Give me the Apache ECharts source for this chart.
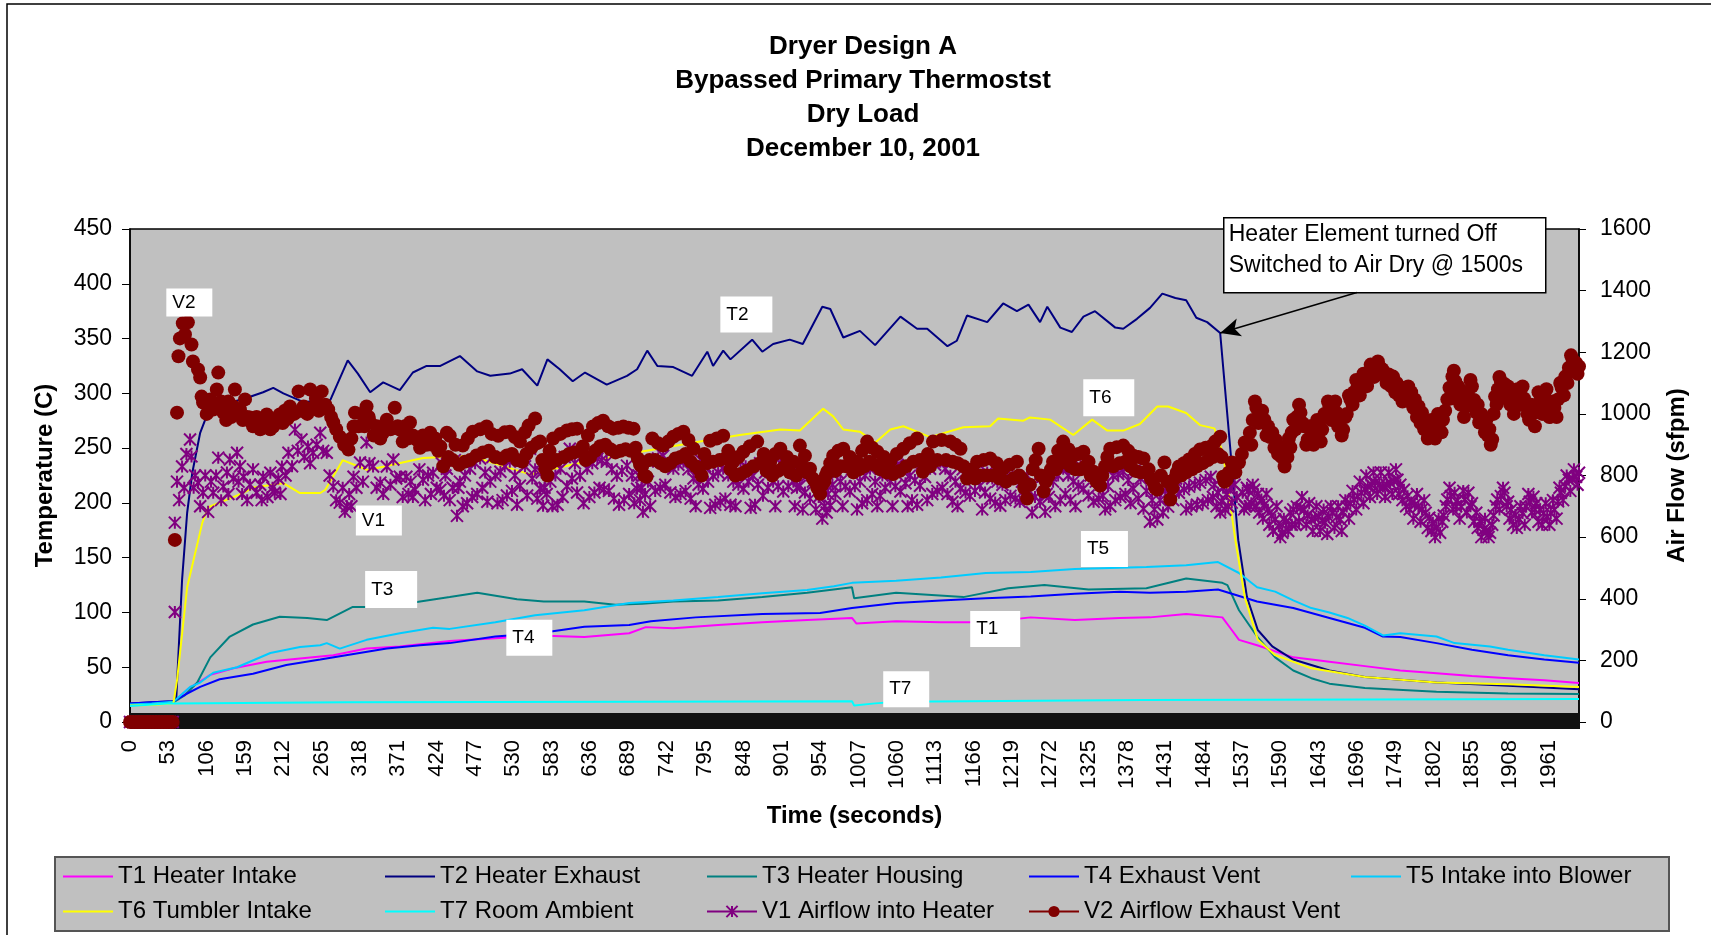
<!DOCTYPE html>
<html>
<head>
<meta charset="utf-8">
<title>Dryer Design A</title>
<script src="https://cdn.jsdelivr.net/npm/echarts@6/dist/echarts.min.js"></script>
<style>
  html, body { margin: 0; padding: 0; background: #fff; }
  #chart { width: 1711px; height: 935px; }
</style>
</head>
<body>
<div id="chart"></div>
<script>
// time (s) vs temperature (C) readings, left axis
const T1 = [[0,15],[30,16],[60,18],[80,30],[97,37],[111,43],[143,49],[189,55],[235,58],[281,61],[327,67],[373,69],[442,74],[505,76.5],[565,79],[628,77.5],[690,81],[713,86.6],[751,85.5],[813,88.5],[874,91],[936,93],[998,95],[1004,90],[1059,92],[1121,91],[1183,91],[1245,95.5],[1306,93],[1368,95],[1410,95.5],[1460,98.6],[1510,95.5],[1523,84],[1533,75],[1558,70],[1608,59],[1658,55],[1707,51],[1756,47],[1806,44.5],[1855,42],[1905,40],[1955,38],[2003,35.6]];
const T2 = [[0,17],[30,18],[60,19],[64,22],[72,130],[79,191],[86,227],[97,264],[104,276],[131,290],[162,296],[184,301],[198,305],[212,300],[240,292],[277,294],[301,330],[315,318],[332,301],[350,310],[373,303],[391,319],[410,325],[429,325],[456,334],[480,320],[498,316],[525,318],[542,322],[563,307],[577,331],[594,322],[612,311],[629,319],[659,308],[687,316],[701,322],[715,339],[729,325],[751,324],[777,316],[798,338],[806,325],[820,339],[830,331],[860,349],[874,338],[889,345],[912,349],[930,345],[957,379],[968,377],[986,351],[1009,357],[1030,344],[1065,370],[1088,359],[1102,359],[1130,343],[1143,348],[1157,371],[1185,365],[1207,382],[1226,375],[1242,381],[1258,365],[1268,379],[1286,360],[1302,356],[1318,370],[1334,375],[1362,360],[1373,359],[1392,368],[1410,378],[1427,391],[1445,387],[1460,385],[1474,369],[1489,365],[1507,355],[1532,166],[1544,114],[1559,84],[1579,69],[1608,57],[1658,47],[1707,41],[1806,36],[1905,33],[2003,30]];
const T3 = [[0,16],[30,17],[60,18],[75,24],[93,36],[111,59],[138,78],[170,89],[207,96],[245,95],[272,93],[308,105],[355,105],[401,110],[442,114],[480,118],[535,112],[572,110],[628,110],[671,107],[708,108],[751,110],[813,111],[874,114],[936,118],[998,123],[1001,113],[1059,118],[1152,114],[1214,122],[1264,125],[1325,121],[1405,122],[1460,131],[1510,127],[1517,125],[1533,102],[1558,78],[1583,59],[1608,47],[1633,40],[1658,35],[1707,31],[1806,27.5],[1905,26],[2003,25.5]];
const T4 = [[0,17],[30,18],[60,19],[79,26],[97,32],[124,39],[170,44],[216,52],[263,57],[309,62],[355,67],[401,70],[442,72],[505,78],[565,81],[628,87],[690,88.5],[720,92],[782,95.5],[874,98.6],[954,99.5],[998,104],[1059,108.6],[1121,111],[1183,113],[1245,114.6],[1306,117],[1368,119],[1410,118],[1460,119],[1504,121],[1558,110],[1608,104],[1658,95],[1707,86],[1732,78],[1756,77.5],[1806,72],[1855,66],[1905,61],[1955,57],[2003,54]];
const T5 = [[0,16],[30,17],[60,18.5],[83,32],[97,36],[115,45],[148,50],[194,63],[235,68.5],[263,70],[272,72],[290,67],[327,75],[373,81],[419,86],[442,85],[505,91],[560,97.5],[628,102],[690,108.6],[751,111],[813,114],[874,117.6],[936,120.5],[973,124],[998,127],[1059,129],[1121,132],[1183,136],[1245,137],[1306,139.6],[1405,141.5],[1460,143],[1504,146],[1533,136],[1558,123],[1583,119],[1608,111],[1633,104],[1658,100],[1683,95],[1707,88],[1732,79],[1756,81],[1806,78],[1831,72],[1880,69],[1905,66],[1955,61],[2003,57]];
const T6 = [[0,15],[30,15.5],[60,17],[65,38],[79,123],[100,182],[108,196],[142,205],[156,209],[170,214],[212,218],[235,209],[263,209],[270,212],[294,239],[328,230],[350,233],[405,241],[470,243],[553,226],[612,235],[708,247],[788,256],[843,262],[899,267],[926,266],[958,286],[972,279],[986,267],[1009,265],[1030,255],[1051,267],[1069,270],[1088,265],[1106,260],[1152,269],[1189,270],[1200,277],[1235,275],[1244,278],[1272,276],[1304,262],[1330,276],[1351,266],[1373,266],[1396,272],[1420,288],[1435,288],[1460,282],[1479,271],[1499,268],[1511,245],[1528,166],[1541,114],[1559,75],[1583,61],[1633,49],[1707,41],[1806,36],[1905,34.5],[2003,32]];
const T7 = [[0,14.5],[57,17],[300,18],[700,18.5],[998,19],[1001,15],[1030,17],[1060,18.5],[1400,20],[1700,20.5],[2003,21]];

// time (s) vs air flow (sfpm) readings, right axis
const V1 = [[0,0],[4,0],[8,0],[12,0],[16,0],[20,0],[24,0],[28,0],[32,0],[36,0],[40,0],[44,0],[48,0],[52,0],[56,0],[59,0],
[62,357],[62,647],[65,780],[68,720],[72,829],[75,760],[78,870],[83,917],[85,862],[88,760],[90,800],[94,777],[97,700],[101,744],[104,800],[108,682],[112,780],[115,744],[119,800],[122,858],[126,720],[129,764],[134,810],[136,740],[138,852],[143,790],[148,874],[150,780],[152,830],[155,740],[157,796],[162,720],[166,770],[170,820],[175,744],[180,770],[182,720],[184,796],[190,730],[194,809],[197,760],[200,744],[205,790],[208,740],[210,829],[215,800],[219,874],[224,830],[228,949],[232,880],[237,917],[241,860],[246,894],[249,840],[253,874],[258,900],[263,939],[267,880],[272,874],[276,800],[281,764],[285,720],[290,712],[294,760],[297,682],[300,700],[303,740],[306,700],[309,796],[313,760],[318,842],[322,780],[327,907],[331,840],[336,829],[341,760],[346,777],[350,740],[355,829],[360,770],[364,852],[368,790],[373,796],[377,730],[382,796],[385,740],[388,780],[391,730],[394,754],[400,820],[405,786],[408,720],[412,800],[416,740],[419,809],[424,760],
[429,754],[431,840],[434,734],[436,800],[438,822],[442,720],[446,760],[449,850],[452,669],[454,760],[456,780],[460,700],[463,800],[466,710],[470,822],[473,730],[477,840],[480,740],[484,855],[487,760],[491,810],[494,715],[498,780],[501,860],[505,800],[508,710],[512,812],[515,720],[518,830],[521,735],[525,845],[528,750],[532,800],[535,705],[539,767],[542,850],[546,830],[549,735],[553,887],[556,790],[560,820],[563,725],[567,757],[569,810],[571,702],[573,760],[576,740],[578,820],[581,780],[584,700],[588,800],[591,705],[595,822],[598,730],[601,860],[604,765],[608,887],[611,790],[615,840],[618,745],[622,799],[627,710],[632,822],[635,730],[639,840],[642,745],[646,855],[649,760],[652,850],[655,755],[659,845],[662,750],[666,820],[669,725],[673,799],[676,705],[680,815],[683,720],[687,832],[690,740],[694,800],[697,710],[701,757],[703,800],[705,720],[707,760],[709,682],[712,740],[716,780],[719,700],[723,845],[726,750],[730,855],[733,760],[737,864],[740,770],[744,840],[747,745],[751,822],[754,730],[758,835],[761,740],[765,845],[768,750],[772,820],[775,725],[779,790],[782,700],[786,770],[789,850],[792,757],[795,830],[799,780],[802,695],[806,799],[809,705],[813,810],[816,715],[820,822],[823,725],[827,800],[830,705],[834,780],[837,700],[841,770],[844,845],[848,757],[851,830],[855,780],[858,695],[861,799],[864,705],[868,770],[871,840],[875,734],[878,810],[882,760],[885,835],[889,780],[892,700],[896,765],[899,840],[903,748],[906,820],[910,765],[913,835],[917,780],[919,700],[922,760],[924,830],[926,767],[930,690],[933,745],[936,800],[940,725],[944,780],[948,690],[952,730],[957,660],[960,700],[963,680],[965,740],[968,702],[971,770],[975,740],[978,810],[982,780],[985,700],[989,765],[992,830],[995,748],[998,820],[1002,765],[1005,690],[1009,780],[1012,710],[1016,800],[1019,720],[1023,822],[1026,740],[1030,780],[1033,700],[1037,734],[1040,800],[1044,760],[1047,830],[1051,780],[1054,700],[1058,765],[1061,835],[1065,748],[1068,815],[1072,775],[1075,700],[1078,799],[1081,720],[1085,785],[1088,705],[1092,767],[1095,840],[1099,795],[1102,720],[1106,822],[1109,740],[1113,835],[1116,750],[1120,845],[1123,760],[1127,822],[1130,740],[1134,799],[1137,715],[1141,780],[1144,700],[1148,757],[1151,820],[1155,745],[1158,810],[1161,734],[1164,800],[1168,750],[1171,820],[1175,767],[1178,690],[1182,745],[1185,810],[1189,725],[1192,790],[1196,712],[1199,780],[1203,702],[1206,770],[1210,720],[1213,790],[1217,734],[1220,800],[1224,725],[1227,790],[1230,715],[1233,780],[1237,730],[1240,800],[1244,748],[1247,680],[1251,730],[1254,795],[1258,715],[1261,770],[1265,682],[1267,740],[1270,730],[1273,800],[1276,780],[1279,700],[1283,800],[1286,720],[1290,822],[1293,740],[1297,800],[1300,720],[1304,780],[1307,700],[1311,767],[1314,830],[1318,757],[1321,820],[1325,735],[1328,800],[1332,715],[1335,780],[1339,725],[1342,790],[1345,734],[1348,690],[1352,765],[1355,700],[1359,799],[1362,720],[1366,805],[1369,730],[1373,812],[1376,740],[1380,785],[1383,710],[1387,757],[1390,820],[1394,725],[1397,790],[1401,692],[1405,750],[1410,650],[1413,720],[1416,690],[1418,750],[1420,657],[1424,720],[1428,680],[1431,750],[1435,699],[1438,770],[1442,720],[1446,790],[1450,744],[1453,810],[1457,755],[1460,690],[1464,764],[1467,700],[1472,770],[1475,705],[1479,777],[1483,710],[1487,785],[1490,720],[1494,796],[1497,730],[1499,770],[1502,700],[1504,744],[1507,680],[1509,715],[1511,760],[1514,689],[1516,740],[1518,700],[1521,760],[1523,712],[1527,770],[1530,730],
[1538,744],[1540,690],[1542,700],[1544,760],[1546,750],[1548,700],[1550,710],[1552,770],[1554,754],[1557,700],[1559,740],[1561,680],[1564,722],[1566,660],[1568,705],[1571,740],[1573,689],[1575,640],[1578,670],[1580,620],[1583,657],[1585,700],[1588,635],[1590,600],[1593,614],[1595,660],[1598,650],[1601,620],[1604,679],[1606,640],[1608,690],[1611,640],[1613,699],[1616,650],[1618,695],[1620,730],[1623,689],[1626,640],[1628,670],[1630,710],[1633,657],[1635,620],[1638,662],[1640,700],[1643,666],[1645,620],[1648,655],[1650,690],[1652,647],[1655,610],[1657,665],[1660,700],[1662,679],[1665,630],[1668,665],[1670,700],[1673,657],[1675,620],[1677,680],[1680,720],[1682,699],[1685,660],[1687,710],[1690,750],[1692,722],[1695,690],[1697,733],[1700,780],[1702,744],[1705,710],[1707,755],[1709,800],[1711,764],[1714,730],[1716,770],[1719,810],[1721,777],[1724,740],[1727,770],[1729,810],[1732,764],[1735,730],[1737,770],[1740,810],[1742,777],[1745,740],[1747,782],[1750,820],[1752,786],[1754,740],[1756,770],[1759,720],[1761,754],[1764,700],[1766,733],[1769,690],[1771,712],[1774,660],[1776,705],[1779,740],[1781,699],[1784,650],[1786,690],[1789,720],[1791,679],[1794,630],[1796,663],[1799,620],[1801,647],[1804,600],[1806,630],[1809,660],[1811,614],[1814,650],[1816,670],[1819,700],[1821,722],[1824,760],[1826,733],[1829,690],[1831,744],[1833,700],[1835,720],[1838,660],[1840,699],[1843,750],[1845,722],[1848,680],[1850,744],[1853,700],[1855,710],[1858,650],[1861,679],[1863,630],[1866,650],[1868,600],[1871,624],[1873,660],[1875,619],[1878,600],[1880,614],[1883,640],[1885,670],[1888,700],[1890,722],[1893,690],[1895,733],[1898,760],[1900,744],[1903,700],[1905,715],[1907,660],[1909,689],[1912,640],[1915,672],[1917,630],[1920,657],[1922,700],[1925,678],[1928,640],[1930,699],[1933,740],[1935,715],[1938,680],[1940,731],[1942,690],[1944,710],[1947,650],[1949,689],[1952,640],[1954,678],[1957,710],[1959,666],[1962,640],[1964,678],[1967,720],[1969,689],[1972,660],[1974,716],[1976,760],[1978,744],[1981,720],[1984,765],[1986,800],[1989,786],[1991,750],[1994,790],[1996,820],[1999,796],[2001,770],[2003,809]];
const V2 = [[0,0],[4,0],[8,0],[12,0],[16,0],[20,0],[24,0],[28,0],[32,0],[36,0],[40,0],[44,0],[48,0],[52,0],[56,0],[59,0],
[62,591],[65,1004],[67,1187],[69,1245],[73,1294],[76,1258],[80,1297],[85,1225],[87,1170],[94,1144],[97,1118],[99,1056],[101,1037],[106,1000],[111,1047],[115,1014],[120,1079],[122,1134],[126,1040],[129,1004],[133,980],[136,1040],[140,990],[143,1024],[145,1079],[149,1000],[152,1014],[156,980],[159,1047],[162,990],[166,988],[170,960],[175,990],[180,950],[184,975],[189,998],[194,950],[198,959],[203,980],[207,998],[211,970],[214,1010],[218,985],[221,1024],[227,1000],[233,1073],[236,1010],[240,1024],[245,1000],[249,1079],[253,1020],[257,1050],[261,1010],[265,1073],[270,1030],[274,1014],[278,990],[281,972],[285,950],[290,926],[296,900],[302,884],[306,920],[309,959],[311,1004],[316,960],[320,1000],[324,960],[327,1024],[330,990],[332,972],[337,930],[341,960],[346,920],[350,939],[353,960],[355,981],[360,950],[366,1020],[370,960],[373,949],[377,910],[380,960],[384,920],[387,972],[391,930],[396,917],[401,890],[405,930],[410,900],[415,939],[418,900],[422,920],[426,880],
[429,894],[433,830],[438,939],[440,860],[442,929],[446,850],[450,900],[455,835],[460,897],[463,845],[467,920],[470,850],[474,942],[479,865],[484,950],[488,875],[493,959],[496,880],[500,935],[505,860],[509,929],[514,855],[518,940],[521,865],[525,942],[528,870],[532,925],[535,850],[539,910],[542,845],[546,940],[548,870],[551,962],[555,890],[560,985],[563,905],[567,910],[570,850],[574,822],[577,800],[580,880],[582,840],[585,920],[590,850],[595,935],[600,860],[604,946],[607,870],[611,950],[614,875],[618,952],[622,880],[626,894],[630,850],[633,930],[636,860],[640,959],[643,880],[647,970],[650,895],[654,978],[657,900],[661,960],[664,885],[668,952],[671,875],[675,955],[678,880],[682,959],[685,885],[689,955],[692,880],[696,952],[699,890],[702,855],[705,835],[708,830],[711,800],[714,796],[718,850],[722,920],[726,850],[730,905],[733,840],[737,897],[740,830],[744,910],[747,840],[751,926],[754,855],[758,935],[761,860],[765,942],[768,870],[772,915],[775,845],[779,887],[782,830],[786,822],[790,800],[794,870],[798,840],[802,913],[806,845],[811,920],[815,850],[820,929],[823,855],[827,880],[830,820],[834,845],[837,800],[841,860],[844,805],[848,877],[852,815],[857,895],[862,830],[867,910],[871,840],[876,870],[880,815],[885,845],[888,800],[892,870],[896,815],[899,887],[903,825],[908,860],[912,810],[917,845],[921,800],[926,897],[929,830],[933,864],[936,810],[940,822],[944,790],[947,780],[950,760],[954,741],[957,770],[960,780],[962,800],[964,812],[968,840],[972,864],[975,815],[979,880],[982,830],[986,887],[990,830],[995,860],[1000,810],[1005,845],[1008,820],[1012,880],[1015,830],[1019,910],[1022,845],[1026,890],[1029,835],[1033,877],[1037,820],[1042,860],[1046,810],[1051,845],[1055,805],[1060,870],[1064,815],[1069,887],[1073,830],[1078,905],[1083,845],[1088,920],[1092,850],[1096,812],[1099,840],[1103,870],[1106,830],[1110,910],[1116,850],[1122,915],[1128,850],[1134,910],[1137,845],[1141,900],[1144,840],[1148,887],[1152,830],[1157,790],[1160,800],[1164,820],[1168,790],[1171,845],[1175,800],[1180,850],[1184,800],[1189,855],[1193,800],[1198,840],[1202,790],[1207,822],[1211,780],[1216,835],[1221,790],[1226,845],[1229,800],[1233,790],[1236,760],[1240,725],[1244,770],[1248,820],[1252,850],[1256,887],[1259,800],[1263,748],[1266,780],[1270,800],[1273,820],[1276,845],[1280,820],[1283,880],[1286,840],[1290,910],[1293,850],[1297,885],[1300,830],[1304,864],[1307,820],[1311,870],[1314,820],[1318,877],[1321,830],[1325,845],[1328,800],[1332,812],[1336,780],[1341,767],[1344,800],[1348,830],[1351,860],[1355,887],[1359,830],[1364,892],[1368,840],[1373,897],[1376,845],[1380,880],[1383,830],[1387,864],[1390,815],[1394,860],[1397,810],[1401,855],[1404,810],[1408,820],[1411,790],[1414,780],[1417,760],[1420,754],[1425,800],[1430,842],[1434,780],[1438,722],[1441,760],[1444,790],[1447,810],[1450,829],[1453,800],[1457,840],[1460,810],[1464,852],[1468,820],[1472,870],[1475,830],[1479,884],[1483,840],[1487,890],[1490,850],[1494,894],[1497,860],[1500,910],[1504,870],[1507,926],[1509,860],[1511,796],[1513,780],[1516,786],[1519,810],[1523,842],[1528,810],[1533,842],[1537,870],[1541,907],
[1548,939],[1550,900],[1552,980],[1555,1040],[1557,1020],[1560,970],[1562,1000],[1565,1010],[1568,981],[1571,930],[1573,960],[1576,925],[1579,939],[1582,890],[1584,915],[1587,870],[1589,894],[1592,860],[1596,829],[1598,870],[1600,860],[1602,920],[1604,891],[1606,940],[1608,981],[1611,950],[1613,990],[1616,1030],[1618,1004],[1621,970],[1623,960],[1626,900],[1628,917],[1631,960],[1633,930],[1636,900],[1638,939],[1641,980],[1643,945],[1646,910],[1648,949],[1651,1000],[1653,990],[1656,1040],[1658,1024],[1661,980],[1663,1010],[1666,1040],[1668,1004],[1670,960],[1672,975],[1675,930],[1677,949],[1680,990],[1682,1000],[1685,1060],[1687,1047],[1690,1030],[1692,1070],[1695,1110],[1697,1089],[1700,1060],[1702,1100],[1705,1130],[1707,1112],[1710,1090],[1712,1130],[1715,1160],[1718,1144],[1720,1120],[1722,1150],[1725,1170],[1727,1154],[1729,1130],[1731,1145],[1734,1134],[1737,1100],[1740,1128],[1743,1090],[1746,1121],[1749,1070],[1751,1100],[1754,1060],[1756,1079],[1759,1040],[1762,1085],[1765,1050],[1767,1089],[1769,1040],[1771,1070],[1774,1020],[1776,1047],[1779,990],[1781,1025],[1784,970],[1786,1004],[1789,950],[1791,970],[1794,920],[1796,939],[1799,980],[1801,950],[1804,920],[1806,959],[1808,1000],[1810,970],[1813,940],[1815,981],[1818,1010],[1821,1047],[1824,1085],[1826,1050],[1828,1121],[1830,1140],[1832,1105],[1834,1070],[1836,1089],[1839,1030],[1841,1055],[1844,990],[1846,1024],[1848,1070],[1850,1055],[1853,1110],[1855,1089],[1858,1045],[1861,1004],[1863,1030],[1865,972],[1868,1000],[1870,976],[1873,940],[1875,981],[1877,930],[1879,950],[1881,900],[1883,917],[1885,1000],[1887,1056],[1889,1030],[1891,1080],[1893,1120],[1895,1105],[1898,1060],[1900,1097],[1903,1050],[1905,1089],[1908,1030],[1910,1055],[1913,1000],[1915,1024],[1918,1080],[1920,1055],[1923,1030],[1925,1089],[1927,1050],[1929,1035],[1932,1000],[1934,981],[1937,1030],[1939,1000],[1942,960],[1944,1024],[1947,1070],[1950,1045],[1952,1000],[1955,1069],[1958,1080],[1960,1030],[1962,990],[1964,991],[1967,1040],[1969,1020],[1972,990],[1974,1047],[1977,1100],[1979,1085],[1982,1060],[1984,1121],[1987,1100],[1989,1150],[1992,1190],[1994,1177],[1997,1140],[1999,1165],[2001,1130],[2003,1154]];

const seriesNames = ['T1 Heater Intake', 'T2 Heater Exhaust', 'T3 Heater Housing', 'T4 Exhaust Vent', 'T5 Intake into Blower',
  'T6 Tumbler Intake', 'T7 Room Ambient', 'V1 Airflow into Heater', 'V2 Airflow Exhaust Vent'];
const seriesColors = ['#ff00ff', '#000080', '#008080', '#0000ff', '#00ccff', '#ffff00', '#00ffff', '#800080', '#800000'];
const seconds = Array.from({ length: 2004 }, (_, i) => i); // one tick per second on the time axis
const labelNames = ['V2', 'V1', 'T2', 'T6', 'T3', 'T4', 'T1', 'T5', 'T7'];
const noteLines = ['Heater Element turned Off', 'Switched to Air Dry @ 1500s'];

const FONT = '"Liberation Sans", Arial, sans-serif';
const chart = echarts.init(document.getElementById('chart'));

// white label boxes, anchored in (seconds, C)
const labelBoxes = [
  { coord: [82, 383], size: [46, 28] },
  { coord: [344, 184], size: [46, 30] },
  { coord: [852, 372], size: [52, 36] },
  { coord: [1353, 296], size: [51, 37] },
  { coord: [361, 121], size: [52, 37] },
  { coord: [552, 77], size: [46, 36] },
  { coord: [1196, 85], size: [50, 36] },
  { coord: [1347, 158], size: [47, 36] },
  { coord: [1073, 30], size: [46, 36] }
];

const tLine = (i, data, extra) => Object.assign({
  name: seriesNames[i],
  type: 'line',
  xAxisIndex: 0,
  yAxisIndex: 0,
  data: data,
  symbol: 'none',
  lineStyle: { color: seriesColors[i], width: 2 },
  itemStyle: { color: seriesColors[i] },
  z: 2
}, extra || {});

// legend keys: plain line for T, line + marker for V
const legendData = seriesNames.map((name, i) => i < 7
  ? { name: name, itemStyle: { opacity: 0 } }
  : { name: name, lineStyle: { color: seriesColors[i], width: 2, opacity: 1 } });

const intLabel = v => String(v);

const option = {
  animation: false,
  backgroundColor: '#fff',
  textStyle: { fontFamily: FONT },
  title: {
    text: 'Dryer Design A\nBypassed Primary Thermostst\nDry Load\nDecember 10, 2001',
    left: 858,
    top: 25,
    textAlign: 'center',
    textStyle: { fontSize: 26, fontWeight: 'bold', color: '#000', lineHeight: 34, fontFamily: FONT }
  },
  grid: {
    left: 130, right: 132, top: 229, bottom: 213,
    show: true, backgroundColor: '#c0c0c0', borderColor: '#000', borderWidth: 1.5
  },
  legend: {
    data: legendData,
    left: 55, top: 857, width: 1600,
    itemWidth: 50, itemHeight: 14, itemGap: 10,
    padding: [7, 7, 7, 7],
    backgroundColor: '#c0c0c0', borderColor: '#555', borderWidth: 2,
    textStyle: { fontSize: 24, color: '#000', width: 256, lineHeight: 25, fontFamily: FONT }
  },
  xAxis: [{
    type: 'value', min: 0, max: 2003, interval: 53,
    axisLine: { show: true, lineStyle: { color: '#000', width: 1.5 } },
    axisTick: { show: false },
    splitLine: { show: false },
    axisLabel: { rotate: 90, fontSize: 22, color: '#000', margin: 18, showMaxLabel: false, fontFamily: FONT, formatter: intLabel },
    name: 'Time (seconds)', nameLocation: 'middle', nameGap: 82,
    nameTextStyle: { fontSize: 24, fontWeight: 'bold', color: '#000', fontFamily: FONT }
  }, {
    type: 'category', data: seconds, boundaryGap: false, position: 'bottom', offset: -9,
    axisLine: { show: false },
    axisLabel: { show: false },
    axisTick: { show: true, interval: 0, length: 16, lineStyle: { color: '#111', width: 1 } },
    splitLine: { show: false }
  }],
  yAxis: [{
    type: 'value', min: 0, max: 450, interval: 50, position: 'left',
    axisLine: { show: true, lineStyle: { color: '#000', width: 1.5 } },
    axisTick: { show: true, length: 8, lineStyle: { color: '#000' } },
    splitLine: { show: false },
    axisLabel: { fontSize: 23, color: '#000', margin: 18, fontFamily: FONT, formatter: intLabel },
    name: 'Temperature (C)', nameLocation: 'middle', nameGap: 73, nameRotate: 90,
    nameTextStyle: { fontSize: 24, fontWeight: 'bold', color: '#000', fontFamily: FONT }
  }, {
    type: 'value', min: 0, max: 1600, interval: 200, position: 'right',
    axisLine: { show: true, lineStyle: { color: '#000', width: 1.5 } },
    axisTick: { show: true, length: 7, lineStyle: { color: '#000' } },
    splitLine: { show: false },
    axisLabel: { fontSize: 23, color: '#000', margin: 21, fontFamily: FONT, formatter: intLabel },
    name: 'Air Flow (sfpm)', nameLocation: 'middle', nameGap: 86, nameRotate: 90,
    nameTextStyle: { fontSize: 24, fontWeight: 'bold', color: '#000', fontFamily: FONT }
  }],
  series: [
    tLine(0, T1, {
      markPoint: {
        silent: true,
        z: 6,
        symbol: 'rect',
        itemStyle: { color: '#fff' },
        label: { show: true, position: 'insideLeft', distance: 6, color: '#000', fontSize: 19, fontFamily: FONT, formatter: '{b}' },
        data: labelBoxes.map((b, i) => ({ name: labelNames[i], coord: b.coord, symbolSize: b.size }))
      }
    }),
    tLine(1, T2, {
      markLine: {
        silent: true,
        symbol: ['none', 'arrow'],
        symbolSize: [14, 20],
        lineStyle: { color: '#000', width: 1.5, type: 'solid' },
        label: { show: false },
        data: [[{ coord: [1696, 392] }, { coord: [1507, 355] }]]
      }
    }),
    tLine(2, T3),
    tLine(3, T4),
    tLine(4, T5),
    tLine(5, T6),
    tLine(6, T7),
    {
      name: seriesNames[7], type: 'line', xAxisIndex: 0, yAxisIndex: 1, data: V1,
      symbol: 'path://M5 0L5 10M0 0L10 10M10 0L0 10', symbolSize: 12,
      showSymbol: true, showAllSymbol: true,
      itemStyle: { color: 'none', borderColor: seriesColors[7], borderWidth: 2 },
      lineStyle: { color: seriesColors[7], width: 1, opacity: 0 },
      z: 3
    },
    {
      name: seriesNames[8], type: 'line', xAxisIndex: 0, yAxisIndex: 1, data: V2,
      symbol: 'circle', symbolSize: 14,
      showSymbol: true, showAllSymbol: true,
      itemStyle: { color: seriesColors[8], borderWidth: 0 },
      lineStyle: { color: seriesColors[8], width: 1, opacity: 0 },
      z: 4
    }
  ],
  graphic: [
    { type: 'rect', z: 20, silent: true, shape: { x: 7, y: 4, width: 1800, height: 1000 },
      style: { fill: 'none', stroke: '#000', lineWidth: 1.5 } },
    { type: 'group', left: 1223, top: 217, z: 20, silent: true, children: [
      { type: 'rect', shape: { x: 0, y: 0, width: 322, height: 75 },
        style: { fill: '#fff', stroke: '#000', lineWidth: 1.5 } },
      { type: 'text', x: 5, y: 1,
        style: { text: noteLines.join('\n'), fontSize: 23, fontFamily: FONT, fill: '#000', lineHeight: 31 } }
    ] }
  ]
};

chart.setOption(option);
</script>
</body>
</html>
